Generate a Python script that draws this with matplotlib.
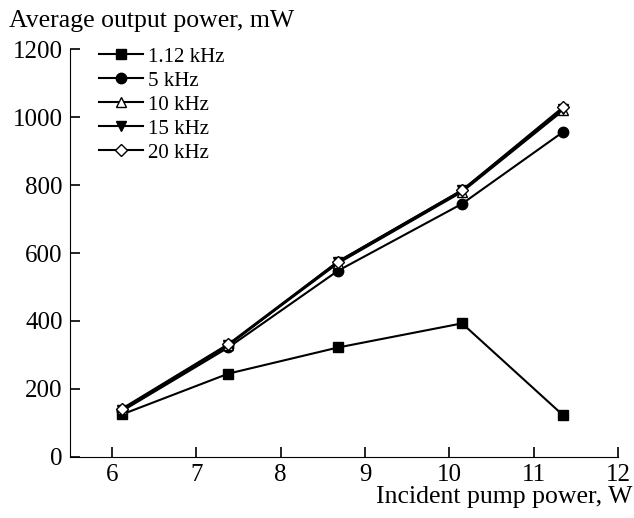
import numpy as np
import matplotlib
matplotlib.use('Agg')
import matplotlib.pyplot as plt

plt.rcParams['font.family'] = ['Liberation Serif', 'DejaVu Serif']

pump = [6.12, 7.38, 8.68, 10.15, 11.35]
p_1k12 = [125, 245, 322, 393, 122]
p_5k = [135, 322, 548, 745, 957]
p_10k = [140, 330, 570, 780, 1020]
p_15k = [138, 328, 575, 785, 1025]
p_20k = [142, 332, 575, 785, 1030]

fig = plt.figure(figsize=(6.34, 5.18), dpi=100)
ax = fig.add_axes([0.110, 0.118, 0.865, 0.787])

lw = 1.5
ax.plot(pump, p_1k12, '-s', color='k', lw=lw, ms=7.5, label='1.12 kHz')
ax.plot(pump, p_5k, '-o', color='k', lw=lw, ms=7.5, label='5 kHz')
ax.plot(pump, p_10k, '-^', color='k', mfc='white', lw=lw, ms=7.5, label='10 kHz')
ax.plot(pump, p_15k, '-v', color='k', lw=lw, ms=7.5, label='15 kHz')
ax.plot(pump, p_20k, '-D', color='k', mfc='white', lw=lw, ms=6.5, label='20 kHz')

ax.set_xlim(5.5, 12)
ax.set_ylim(0, 1200)
ax.set_xticks(range(6, 13))
ax.set_yticks(range(0, 1201, 200))
ax.spines['top'].set_visible(False)
ax.spines['right'].set_visible(False)
ax.tick_params(direction='in', length=7, width=1.2, labelsize=18, pad=5)

fig.text(0.014, 0.948, 'Average output power, mW', fontsize=18.5, va='baseline')
fig.text(0.997, 0.029, 'Incident pump power, W', fontsize=18.5, ha='right', va='baseline')

ax.legend(loc='upper left', bbox_to_anchor=(0.156, 0.909), bbox_transform=fig.transFigure,
          frameon=False, fontsize=15, borderpad=0, borderaxespad=0,
          handlelength=2.1, handletextpad=0.25, labelspacing=0.21)

fig.savefig('out.png', dpi=100)
